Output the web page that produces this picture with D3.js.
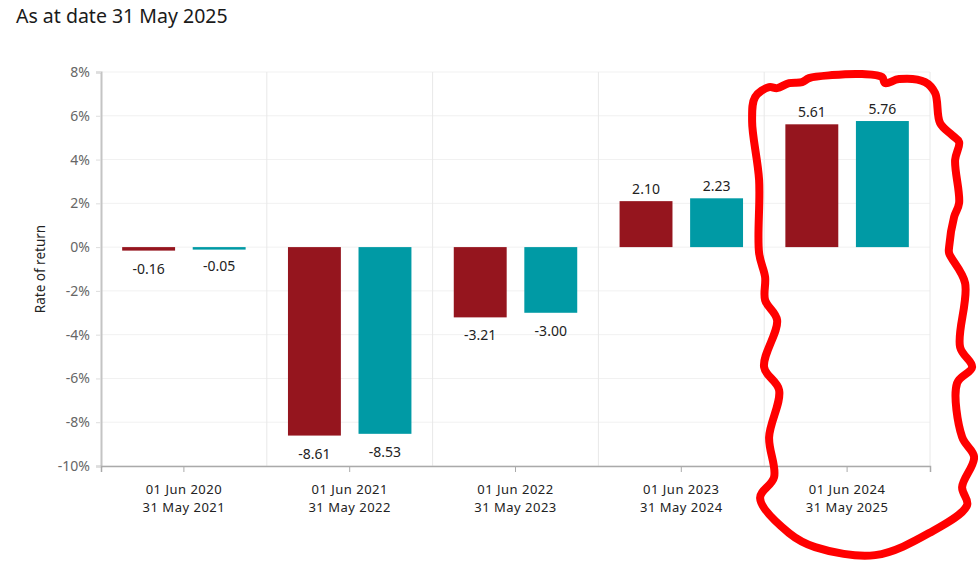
<!DOCTYPE html>
<html>
<head>
<meta charset="utf-8">
<script src="https://cdn.jsdelivr.net/npm/d3@7"></script>
<style>
  body { margin: 0; background: #fff; }
  svg text { font-family: "Noto Sans", sans-serif; }
</style>
</head>
<body>
<div id="chart"></div>
<script>
// DATA
const periodStart = ['01 Jun 2020', '01 Jun 2021', '01 Jun 2022', '01 Jun 2023', '01 Jun 2024'];
const periodEnd = ['31 May 2021', '31 May 2022', '31 May 2023', '31 May 2024', '31 May 2025'];
const fundReturns = [-0.16, -8.61, -3.21, 2.10, 5.61];
const benchReturns = [-0.05, -8.53, -3.00, 2.23, 5.76];
const yTicks = [8, 6, 4, 2, 0, -2, -4, -6, -8, -10];
const seriesKeys = ['fund', 'bench'];

// outline of the hand drawn highlight, offsets from the last band centre / y(0)
const highlightOutline = [
  [-95, -126], [-92, -150], [-78, -160], [-70, -159], [-58, -164], [-45, -165], [-38, -169],
  [-15, -172], [15, -173], [35, -170], [38, -164], [52, -168], [78, -165], [88, -154],
  [93, -124], [105, -112], [112, -105], [108, -87], [112, -44], [107, -30], [102, 0],
  [102, 6], [118, 36], [113, 100], [125, 120], [110, 136], [115, 190], [127, 210],
  [115, 240], [120, 258], [82, 286], [28, 308], [-32, 300], [-58, 286], [-87, 251],
  [-73, 230], [-78, 190], [-68, 143], [-83, 120], [-70, 73], [-82, 53], [-82, 30],
  [-88, 6], [-88, -67]
];

// layout
var width = 978, height = 561;
var margin = {left: 101, right: 48, top: 72, bottom: 95};
var fundColor = '#95151e';
var benchColor = '#009aa5';
var gridColor = '#f1f1f1';
var sepColor = '#e8e8e8';
var axisColor = '#c4c4c4';
var labelSize = 14;

var svg = d3.select('#chart')
  .append('svg')
    .attr('width', width)
    .attr('height', height);

var x0 = d3.scaleBand()
    .domain(periodStart)
    .range([margin.left, width - margin.right])
    .paddingInner(0)
    .paddingOuter(0);

var x1 = d3.scaleBand()
    .domain(seriesKeys)
    .range([0, x0.bandwidth()])
    .paddingInner(0.25)
    .paddingOuter(0.3);

var y = d3.scaleLinear()
    .domain([-10, 8])
    .range([height - margin.bottom, margin.top]);

// title
svg.append('text')
    .attr('x', 16)
    .attr('y', 23)
    .attr('font-size', 19.5)
    .attr('fill', '#1a1a1a')
    .text('As at date 31 May 2025');

// horizontal grid
svg.append('g')
  .selectAll('line')
  .data(yTicks)
  .enter()
  .append('line')
    .attr('x1', margin.left)
    .attr('x2', width - margin.right)
    .attr('y1', d => y(d))
    .attr('y2', d => y(d))
    .attr('stroke', gridColor)
    .attr('stroke-width', 1);

// vertical band separators
svg.append('g')
  .selectAll('line')
  .data(periodStart.slice(1).concat(['end']))
  .enter()
  .append('line')
    .attr('x1', d => d === 'end' ? width - margin.right : x0(d))
    .attr('x2', d => d === 'end' ? width - margin.right : x0(d))
    .attr('y1', y(8))
    .attr('y2', y(-10))
    .attr('stroke', sepColor)
    .attr('stroke-width', 1);

// y axis
var yAxis = svg.append('g')
    .attr('transform', 'translate(' + margin.left + ',0)')
    .call(d3.axisLeft(y).tickValues(yTicks).tickSize(5).tickPadding(6).tickFormat(d => d + '%'));
yAxis.select('.domain').attr('stroke', axisColor).attr('stroke-width', 2);
yAxis.selectAll('.tick line').attr('stroke', '#dddddd');
yAxis.selectAll('.tick text')
    .attr('font-size', labelSize)
    .attr('fill', '#666')
    .attr('font-family', '"Noto Sans", sans-serif');

svg.append('text')
    .attr('transform', 'translate(45,' + y(-1) + ') rotate(-90)')
    .attr('text-anchor', 'middle')
    .attr('font-size', 13.5)
    .attr('fill', '#222')
    .text('Rate of return');

// x axis
var xAxis = svg.append('g')
    .attr('transform', 'translate(0,' + y(-10) + ')')
    .call(d3.axisBottom(x0).tickSize(6).tickFormat(''));
xAxis.select('.domain').attr('stroke', '#aaaaaa').attr('stroke-width', 1.5);
xAxis.selectAll('.tick line').attr('stroke', '#aaaaaa');

// two line period labels
var xLabels = svg.append('g')
  .selectAll('g')
  .data(periodStart)
  .enter()
  .append('g')
    .attr('transform', d => 'translate(' + (x0(d) + x0.bandwidth() / 2) + ',' + y(-10) + ')');
xLabels.append('text')
    .attr('y', 28)
    .attr('text-anchor', 'middle')
    .attr('font-size', 13)
    .attr('letter-spacing', 0.5)
    .attr('fill', '#222')
    .text(d => d);
xLabels.append('text')
    .attr('y', 46)
    .attr('text-anchor', 'middle')
    .attr('font-size', 13)
    .attr('letter-spacing', 0.5)
    .attr('fill', '#222')
    .text((d, i) => periodEnd[i]);

// bars
var rows = periodStart.map((p, i) => ({period: p, fund: fundReturns[i], bench: benchReturns[i]}));
var colorOf = {fund: fundColor, bench: benchColor};
var minBar = 2.5; // tiny values still show as a thin strip

var groups = svg.append('g')
  .selectAll('g')
  .data(rows)
  .enter()
  .append('g')
    .attr('transform', d => 'translate(' + x0(d.period) + ',0)');

var cells = groups.selectAll('g')
  .data(d => seriesKeys.map(k => ({key: k, value: d[k]})))
  .enter()
  .append('g');

cells.append('rect')
    .attr('x', d => x1(d.key))
    .attr('width', x1.bandwidth())
    .attr('y', d => y(Math.max(0, d.value)))
    .attr('height', d => Math.max(minBar, Math.abs(y(d.value) - y(0))))
    .attr('fill', d => colorOf[d.key]);

cells.append('text')
    .attr('x', d => x1(d.key) + x1.bandwidth() / 2)
    .attr('y', d => d.value >= 0 ? y(d.value) - 7 : y(d.value) + 23)
    .attr('text-anchor', 'middle')
    .attr('font-size', labelSize)
    .attr('fill', '#222')
    .text(d => d.value.toFixed(2));

// hand drawn highlight round the latest period
var lastCx = x0(periodStart[periodStart.length - 1]) + x0.bandwidth() / 2;
var outline = d3.line()
    .x(d => lastCx + d[0])
    .y(d => y(0) + d[1])
    .curve(d3.curveCatmullRomClosed);

svg.append('path')
    .attr('d', outline(highlightOutline))
    .attr('fill', 'none')
    .attr('stroke', '#ff0000')
    .attr('stroke-width', 8)
    .attr('stroke-linejoin', 'round');
</script>
</body>
</html>
